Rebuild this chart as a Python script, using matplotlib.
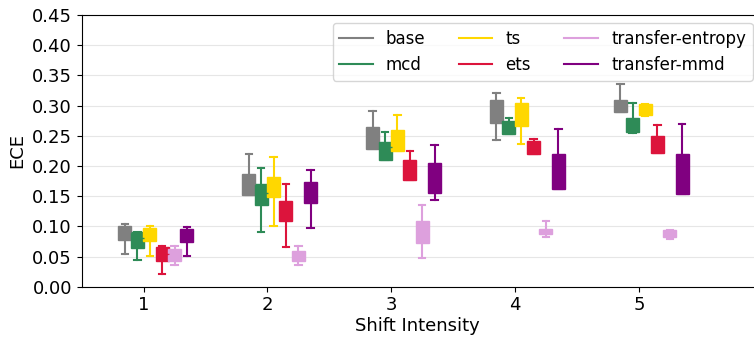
import matplotlib
matplotlib.use("Agg")
import matplotlib.pyplot as plt
from matplotlib.lines import Line2D

methods = ["base", "mcd", "ts", "ets", "transfer-entropy", "transfer-mmd"]
colors = ["gray", "seagreen", "gold", "crimson", "plum", "purple"]
intensities = [1, 2, 3, 4, 5]

# per method: one value per shift intensity
whislo = {
    "base":             [0.054, 0.152, 0.228, 0.243, 0.289],
    "mcd":              [0.044, 0.090, 0.209, 0.253, 0.254],
    "ts":               [0.051, 0.100, 0.224, 0.237, 0.282],
    "ets":              [0.021, 0.066, 0.176, 0.220, 0.221],
    "transfer-entropy": [0.036, 0.036, 0.047, 0.082, 0.079],
    "transfer-mmd":     [0.051, 0.098, 0.144, 0.161, 0.154],
}
q1 = {
    "base":             [0.077, 0.152, 0.228, 0.271, 0.289],
    "mcd":              [0.064, 0.135, 0.209, 0.253, 0.256],
    "ts":               [0.075, 0.149, 0.224, 0.266, 0.284],
    "ets":              [0.042, 0.108, 0.176, 0.220, 0.222],
    "transfer-entropy": [0.042, 0.043, 0.072, 0.087, 0.082],
    "transfer-mmd":     [0.074, 0.138, 0.155, 0.161, 0.154],
}
med = {
    "base":             [0.090, 0.170, 0.245, 0.290, 0.298],
    "mcd":              [0.081, 0.156, 0.232, 0.262, 0.266],
    "ts":               [0.086, 0.165, 0.240, 0.285, 0.293],
    "ets":              [0.054, 0.125, 0.193, 0.231, 0.235],
    "transfer-entropy": [0.052, 0.051, 0.090, 0.091, 0.088],
    "transfer-mmd":     [0.085, 0.155, 0.180, 0.190, 0.187],
}
q3 = {
    "base":             [0.100, 0.186, 0.265, 0.310, 0.310],
    "mcd":              [0.091, 0.170, 0.240, 0.275, 0.279],
    "ts":               [0.098, 0.182, 0.259, 0.304, 0.302],
    "ets":              [0.065, 0.142, 0.209, 0.242, 0.249],
    "transfer-entropy": [0.062, 0.059, 0.109, 0.095, 0.094],
    "transfer-mmd":     [0.096, 0.173, 0.205, 0.219, 0.220],
}
whishi = {
    "base":             [0.104, 0.220, 0.291, 0.321, 0.336],
    "mcd":              [0.091, 0.197, 0.257, 0.280, 0.304],
    "ts":               [0.101, 0.215, 0.285, 0.313, 0.302],
    "ets":              [0.068, 0.170, 0.224, 0.244, 0.267],
    "transfer-entropy": [0.068, 0.067, 0.136, 0.108, 0.094],
    "transfer-mmd":     [0.099, 0.193, 0.235, 0.261, 0.270],
}

fig = plt.figure(figsize=(7.54, 3.39), dpi=100)
ax = fig.add_axes([0.1083, 0.1543, 0.8917, 0.8015])

for i, (m, c) in enumerate(zip(methods, colors)):
    stats = []
    for j in range(len(intensities)):
        stats.append(dict(whislo=whislo[m][j], q1=q1[m][j], med=med[m][j],
                          q3=q3[m][j], whishi=whishi[m][j], fliers=[]))
    pos = [x + (i - 1.5) * 0.1 for x in intensities]
    ax.bxp(stats, positions=pos, widths=0.105, patch_artist=True,
           showfliers=False, manage_ticks=False,
           boxprops=dict(facecolor=c, edgecolor=c, linewidth=1),
           whiskerprops=dict(color=c, linewidth=1.5),
           capprops=dict(color=c, linewidth=1.5),
           medianprops=dict(color=c, linewidth=1))

ax.set_xlim(0.5, 5.93)
ax.set_ylim(0, 0.45)
ax.set_xticks(intensities)
ax.set_yticks([i * 0.05 for i in range(10)])
ax.set_yticklabels(["%.2f" % (i * 0.05) for i in range(10)])
ax.tick_params(labelsize=13)
ax.grid(axis="y", color="#e6e6e6", linewidth=0.8)
ax.set_axisbelow(True)
ax.spines["right"].set_visible(False)
ax.set_xlabel("Shift Intensity", fontsize=13, labelpad=2)
ax.set_ylabel("ECE", fontsize=13)

handles = [Line2D([0], [0], color=c, linewidth=1.5) for c in colors]
ax.legend(handles, methods, ncol=3, loc="upper right", fontsize=12,
          bbox_to_anchor=(0.998, 0.9705), borderaxespad=0)

fig.savefig("out.png", dpi=100)
